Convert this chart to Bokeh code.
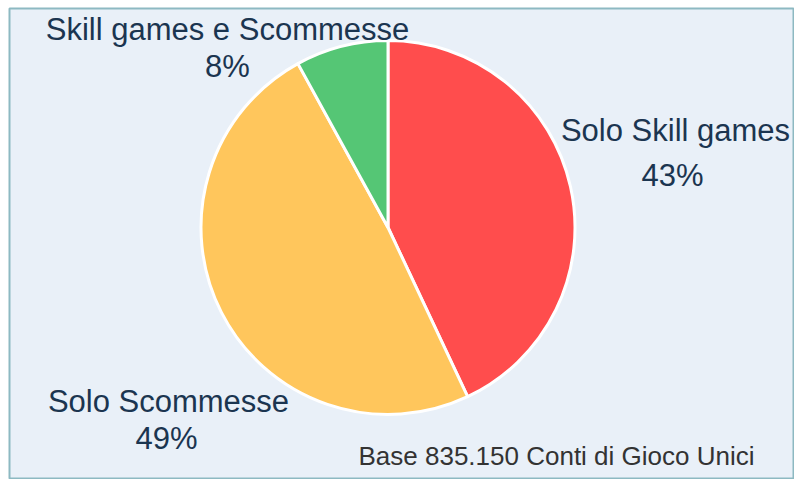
import math
from bokeh.plotting import figure
from bokeh.models import Range1d, Label, ColumnDataSource
from bokeh.embed import file_html
from bokeh.resources import INLINE

# ---- data ----
categories = ["Solo Skill games", "Solo Scommesse", "Skill games e Scommesse"]
shares = [43, 49, 8]
colors = ["#FF4D4D", "#FFC65C", "#55C675"]
pct_labels = ["43%", "49%", "8%"]
note = "Base 835.150 Conti di Gioco Unici"

FW, FH = 784, 470
BG = "#E9F0F8"
TXT = "#1B3550"

p = figure(width=794, height=479, output_backend="svg", toolbar_location=None,
           x_range=Range1d(0, FW), y_range=Range1d(0, FH),
           min_border_left=9, min_border_top=8, min_border_right=1, min_border_bottom=1)
p.axis.visible = False
p.grid.visible = False
p.background_fill_color = BG
p.border_fill_color = "white"
p.outline_line_color = "#8DB9C2"
p.outline_line_width = 2

total = float(sum(shares))
starts, ends = [], []
cum = 0.0
for v in shares:
    starts.append(math.pi / 2 - 2 * math.pi * cum / total)
    cum += v
    ends.append(math.pi / 2 - 2 * math.pi * cum / total)

src = ColumnDataSource(dict(cat=categories, start=starts, end=ends, color=colors,
                            x=[378.5] * 3, y=[251] * 3))
p.wedge(x="x", y="y", radius=187, start_angle="start", end_angle="end",
        direction="clock", fill_color="color", line_color="white", line_width=3,
        source=src)

FONT = "Liberation Sans"

def lab(text, x, y, size="31px", color=TXT, align="center"):
    p.add_layout(Label(x=x, y=y, text=text,
                       text_font=FONT, text_font_size=size, text_color=color,
                       text_align=align, text_baseline="alphabetic"))

# category labels (name + percentage)
lab(categories[0], 666, 348)
lab(pct_labels[0], 663, 303)
lab(categories[1], 159, 77)
lab(pct_labels[1], 157, 40)
lab(categories[2], 218, 449)
lab(pct_labels[2], 218, 412)

lab(note, 349, 23, size="26px", color="#333333", align="left")

open("out.html", "w").write(file_html(p, INLINE))
